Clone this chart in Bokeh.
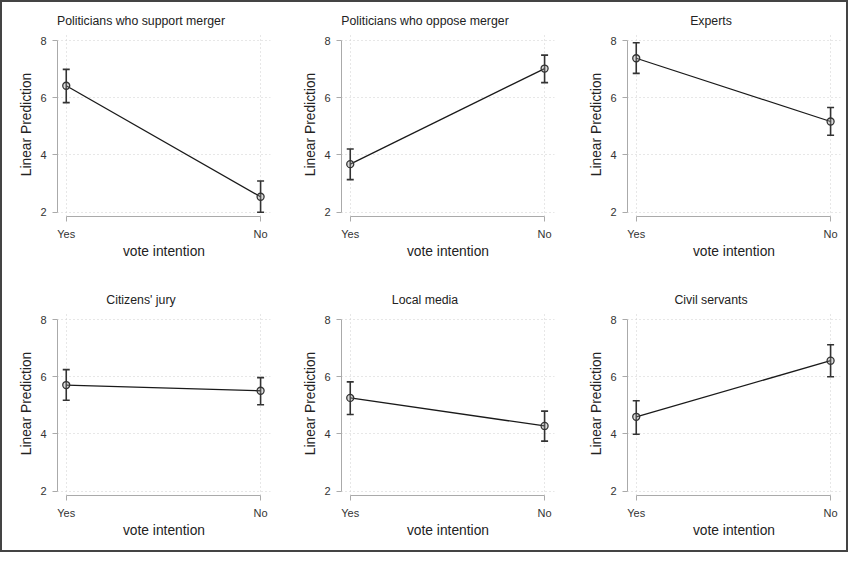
from bokeh.plotting import figure
from bokeh.layouts import gridplot
from bokeh.models import ColumnDataSource, Whisker, TeeHead, Range1d, FixedTicker
from bokeh.embed import file_html
from bokeh.resources import INLINE

titles = ["Politicians who support merger", "Politicians who oppose merger", "Experts",
          "Citizens' jury", "Local media", "Civil servants"]
categories = ["Yes", "No"]
yes_mean = [6.42, 3.68, 7.38, 5.71, 5.26, 4.60]
yes_lo = [5.83, 3.14, 6.85, 5.18, 4.68, 3.99]
yes_hi = [6.99, 4.21, 7.92, 6.25, 5.82, 5.16]
no_mean = [2.54, 7.02, 5.17, 5.51, 4.28, 6.56]
no_lo = [2.00, 6.53, 4.69, 5.02, 3.75, 6.00]
no_hi = [3.09, 7.49, 5.66, 5.97, 4.80, 7.12]
y_ticks = [2, 4, 6, 8]

FONT = "Liberation Sans"
TITLE_PX = 12.3
WIDTHS = [284, 286, 274]
HEIGHTS = [279, 269]
LEFT, TOP, FRAME_W = 55, 30, 213
BOTTOMS = [65, 55]

# Arial / Liberation Sans advance widths (per 1000 em) to centre titles over the panel
ADV = {"P": 667, "o": 556, "l": 222, "i": 222, "t": 278, "c": 500, "a": 556, "n": 556,
       "s": 500, " ": 278, "w": 722, "h": 556, "u": 556, "p": 556, "r": 333, "m": 833,
       "e": 556, "g": 556, "E": 667, "x": 500, "C": 722, "z": 500, "'": 191, "j": 222,
       "y": 500, "L": 556, "d": 556, "v": 500}


def text_width(s, size):
    return sum(ADV.get(ch, 556) for ch in s) / 1000.0 * size


figs = []
for i, t in enumerate(titles):
    r, c = divmod(i, 3)
    W, H = WIDTHS[c], HEIGHTS[r]
    p = figure(width=W, height=H, output_backend="svg", toolbar_location=None,
               x_range=Range1d(-0.045, 1.051), y_range=Range1d(1.85, 8.28),
               min_border_left=LEFT, min_border_right=W - LEFT - FRAME_W,
               min_border_top=TOP, min_border_bottom=BOTTOMS[r])
    p.title.text = t
    p.title.align = "left"
    p.title.offset = FRAME_W / 2 - 23 - text_width(t, TITLE_PX) / 2
    p.title.text_font = FONT
    p.title.text_font_size = f"{TITLE_PX}px"
    p.title.text_font_style = "normal"
    p.title.text_color = "#222222"
    p.outline_line_color = None
    p.background_fill_color = "white"
    p.border_fill_color = "white"

    xs = list(range(len(categories)))
    src = ColumnDataSource(dict(x=xs, m=[yes_mean[i], no_mean[i]],
                                lo=[yes_lo[i], no_lo[i]], hi=[yes_hi[i], no_hi[i]]))
    p.line("x", "m", source=src, line_color="#1a1a1a", line_width=1.3)
    w = Whisker(base="x", lower="lo", upper="hi", source=src,
                line_color="#333333", line_width=1.6,
                upper_head=TeeHead(size=7, line_color="#333333", line_width=1.6),
                lower_head=TeeHead(size=7, line_color="#333333", line_width=1.6))
    p.add_layout(w)
    p.scatter("x", "m", source=src, size=7, fill_color="#999999", fill_alpha=0.35,
              line_color="#333333", line_width=1.3)

    p.yaxis.ticker = FixedTicker(ticks=y_ticks)
    p.yaxis.bounds = (2, 8)
    p.xaxis.ticker = FixedTicker(ticks=xs)
    p.xaxis.bounds = (0, 1)
    p.xaxis.major_label_overrides = {j: cat for j, cat in enumerate(categories)}
    for ax in (p.xaxis[0], p.yaxis[0]):
        ax.axis_line_color = "#aaaaaa"
        ax.major_tick_line_color = "#aaaaaa"
        ax.major_tick_out = 5
        ax.major_tick_in = 0
        ax.minor_tick_line_color = None
        ax.major_label_text_font = FONT
        ax.major_label_text_font_size = "11px"
        ax.major_label_text_color = "#333333"
        ax.axis_label_text_font = FONT
        ax.axis_label_text_font_size = "13.8px"
        ax.axis_label_text_font_style = "normal"
        ax.axis_label_text_color = "#222222"
    p.xaxis.axis_label = "vote intention"
    p.yaxis.axis_label = "Linear Prediction"
    p.yaxis.major_label_orientation = "horizontal"
    p.xaxis.major_label_standoff = 6
    p.xaxis.axis_label_standoff = 1
    p.yaxis.major_label_standoff = 6
    p.yaxis.axis_label_standoff = 3

    p.xgrid.ticker = FixedTicker(ticks=xs)
    p.ygrid.ticker = FixedTicker(ticks=y_ticks)
    for g in (p.xgrid[0], p.ygrid[0]):
        g.grid_line_color = "#cfcfcf"
        g.grid_line_dash = "1 3"
        g.grid_line_width = 1
    figs.append(p)

grid = gridplot([figs[0:3], figs[3:6]], toolbar_location=None)
grid.styles = {"border": "2px solid #444444"}

with open("out.html", "w") as f:
    f.write(file_html(grid, INLINE))
